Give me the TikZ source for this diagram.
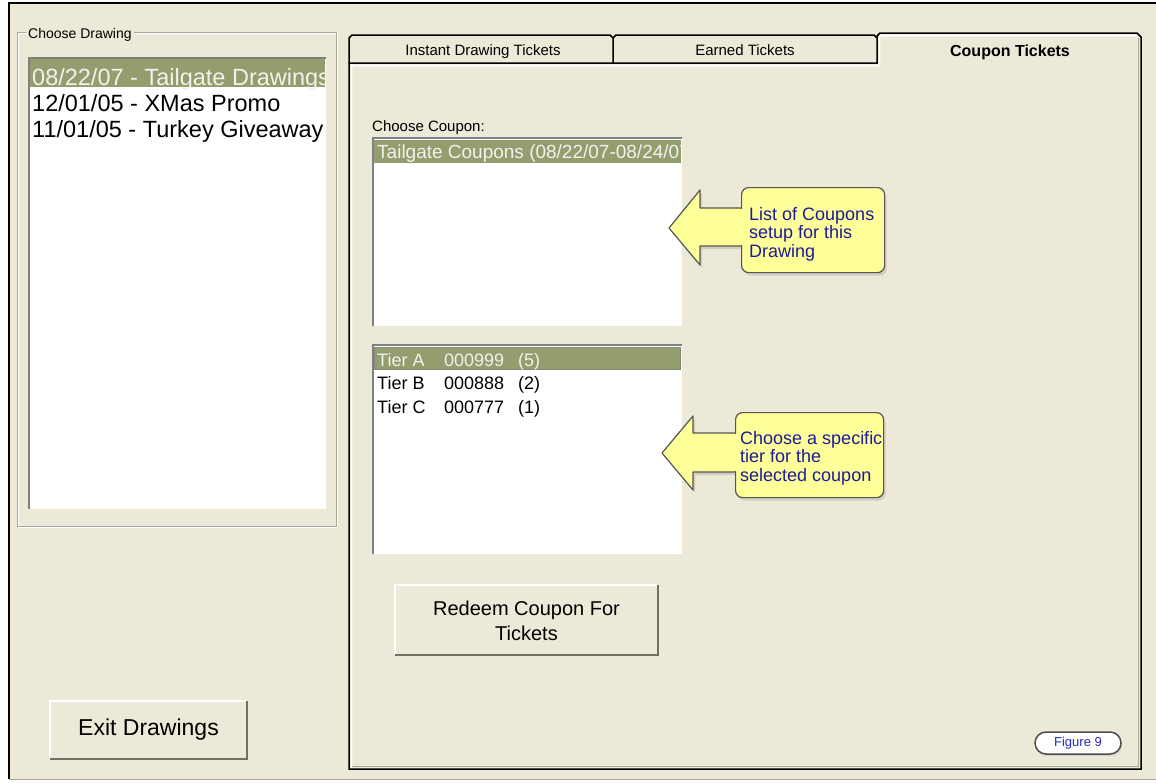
\documentclass[tikz,border=0pt]{standalone}
\usepackage{fontspec}
\setmainfont{Liberation Sans}
\usetikzlibrary{shadows}

\definecolor{winbg}{HTML}{ECE9D8}
\definecolor{selbg}{HTML}{949D6E}
\definecolor{seltext}{HTML}{F2F2EC}
\definecolor{etch}{HTML}{ACA899}
\definecolor{btnshade}{HTML}{716F64}
\definecolor{tipfill}{HTML}{FFFF99}
\definecolor{tipline}{HTML}{555555}
\definecolor{tipblue}{RGB}{28,28,150}
\definecolor{figblue}{RGB}{40,40,200}

\begin{document}
\begin{tikzpicture}[x=1pt, y=-1pt,
    ui/.style={inner sep=0pt, font=\fontsize{15}{18}\selectfont},
    item/.style={anchor=base west, inner sep=0pt, font=\fontsize{18}{21}\selectfont},
    bigitem/.style={item, font=\fontsize{23.5}{26}\selectfont},
    sunken/.style={draw=gray, line width=2pt},
    tabline/.style={draw=black, line width=1.5pt, line join=miter},
    tipshape/.style={fill=tipfill, draw=tipline, line width=1.2pt, line join=round,
        drop shadow={opacity=.25, shadow xshift=2pt, shadow yshift=-3pt}},
    tiptext/.style={anchor=north west, inner sep=0pt, align=left, text=tipblue,
        font=\fontsize{18}{18.5}\selectfont},
    btntext/.style={inner sep=0pt, align=center, font=\fontsize{20}{25}\selectfont}]
    \useasboundingbox (0,0) rectangle (1156,782);
    \fill[white] (0,0) rectangle (1156,782);

    % window
    \fill[winbg] (9,3) rectangle (1156,779);
    \draw[black!35] (9,779.5) -- (1156,779.5);
    \draw[line width=2.5pt] (1156,3) -- (9,3) -- (9,779);

    % drawing chooser
    \draw[white] (18,33) rectangle (337,527);
    \draw[etch] (17,32) rectangle (336,526);
    \node[ui, anchor=base west, fill=winbg, inner xsep=2pt, font=\fontsize{14}{16}\selectfont] (grp) at (26,38) {Choose Drawing};
    \fill[white] (28,57) rectangle (326,509);
    \draw[sunken] (29,509) -- (29,58) -- (326,58);
    \begin{scope}
        \clip (30,59) rectangle (325,508);
        \fill[selbg] (30,59) rectangle (325,87);
        \node[bigitem, text=seltext] (draw1) at (32,85) {08/22/07 - Tailgate Drawings};
        \node[bigitem] (draw2) at (32,111) {12/01/05 - XMas Promo};
        \node[bigitem] (draw3) at (32,137) {11/01/05 - Turkey Giveaway};
    \end{scope}

    % exit button
    \node[inner sep=0pt, minimum width=197pt, minimum height=58pt, font=\fontsize{23}{26}\selectfont] (exit) at (148.5,730) {Exit Drawings};
    \draw[white, line width=1.5pt] (exit.south west) -- (exit.north west) -- (exit.north east);
    \draw[btnshade, line width=2pt] (exit.north east) -- (exit.south east) -- (exit.south west);

    % tabs and panel
    \draw[tabline] (349,63) -- (349,38) -- (352,35) -- (610,35) -- (613,38) -- (613,63);
    \draw[tabline] (613,38) -- (616,35) -- (874,35) -- (877,38);
    \draw[white, line width=1.5pt] (351.5,767) -- (351.5,65.5) -- (879.5,65.5) -- (879.5,36.5) -- (881,35.5) -- (1137,35.5);
    \draw[etch, line width=1.5pt] (1138.5,38) -- (1138.5,766.5) -- (352,766.5);
    \draw[tabline] (349,63) -- (349,769) -- (1141,769) -- (1141,37) -- (1137,33) -- (880,33) -- (877,36) -- (877,63) -- cycle;
    \node[ui, anchor=base] (tabinst) at (483,55) {Instant Drawing Tickets};
    \node[ui, anchor=base] (tabearn) at (745,55) {Earned Tickets};
    \node[ui, anchor=base, font=\fontsize{16}{18}\selectfont\bfseries] (tabcoup) at (1010,56) {Coupon Tickets};

    % coupon list
    \node[ui, anchor=base west] (cplabel) at (372,131) {Choose Coupon:};
    \fill[white] (372,137) rectangle (682,326);
    \draw[sunken] (373,326) -- (373,138) -- (682,138);
    \begin{scope}
        \clip (374,139) rectangle (681,325);
        \fill[selbg] (374,140) rectangle (681,163);
        \node[item, text=seltext, font=\fontsize{19}{21}\selectfont] (coupon) at (377,158) {Tailgate Coupons (08/22/07-08/24/07)};
    \end{scope}

    % tier list
    \fill[white] (372,344) rectangle (682,554);
    \draw[sunken] (373,554) -- (373,345) -- (682,345);
    \fill[selbg] (374,347) rectangle (681,370);
    \draw[densely dotted, black!50] (374.5,347.5) rectangle (680.5,369.5);
    \foreach \t/\code/\n/\col [count=\i] in {A/000999/5/seltext, B/000888/2/black, C/000777/1/black} {
        \node[item, text=\col] (tier\t) at (377,342.5+23.5*\i) {Tier \t};
        \node[item, text=\col] (code\t) at (444,342.5+23.5*\i) {\code};
        \node[item, text=\col] (count\t) at (518,342.5+23.5*\i) {(\n)};
    }

    % callouts
    \path[tipshape] (669,228) -- (700,190) -- (700,208) -- (746,208) -- (746,246) -- (700,246) -- (700,265) -- cycle;
    \node[tipshape, rounded corners=7pt, minimum width=143pt, minimum height=85pt, anchor=north west] (tip1) at (741,187) {};
    \fill[tipfill] (740,209) rectangle (743,245);
    \node[tiptext] (tip1txt) at (749,207) {List of Coupons\\setup for this\\Drawing};

    \path[tipshape] (662,453) -- (693,416) -- (693,433) -- (740,433) -- (740,472) -- (693,472) -- (693,490) -- cycle;
    \node[tipshape, rounded corners=7pt, minimum width=148pt, minimum height=85pt, anchor=north west] (tip2) at (735,412) {};
    \fill[tipfill] (734,434) rectangle (737,471);
    \node[tiptext] (tip2txt) at (740,431) {Choose a specific\\tier for the\\selected coupon};

    % redeem button
    \node[inner sep=0pt, minimum width=263pt, minimum height=70pt] (redeem) at (526.5,620) {};
    \draw[white, line width=1.5pt] (redeem.south west) -- (redeem.north west) -- (redeem.north east);
    \draw[btnshade, line width=2pt] (redeem.north east) -- (redeem.south east) -- (redeem.south west);
    \node[btntext, anchor=north] (redeemtxt) at (526.5,600.5) {Redeem Coupon For\\Tickets};

    % figure badge
    \node[draw=black!70, line width=1.5pt, fill=white, rounded corners=11pt, minimum width=86pt, minimum height=22pt,
        inner sep=0pt, text=figblue, font=\fontsize{13}{15}\selectfont,
        drop shadow={opacity=.2, shadow xshift=1pt, shadow yshift=-2pt}] (fig) at (1078,743) {Figure 9};
\end{tikzpicture}
\end{document}
